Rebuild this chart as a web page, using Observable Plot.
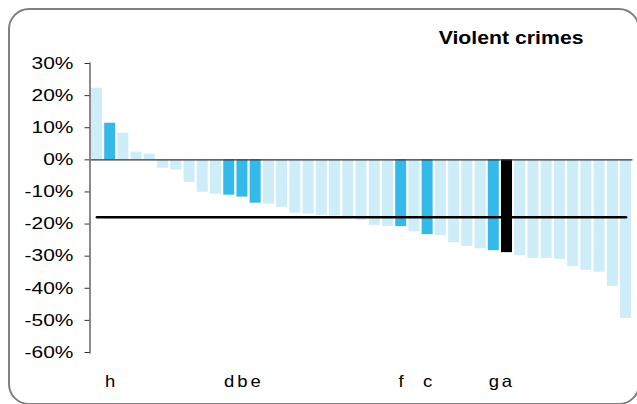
<!DOCTYPE html>
<html><head><meta charset="utf-8">
<script src="https://cdn.jsdelivr.net/npm/d3@7"></script>
<script src="https://cdn.jsdelivr.net/npm/@observablehq/plot@0.6"></script>
<style>
html,body{margin:0;padding:0;background:#fff;}
#chart{position:relative;width:637px;height:404px;overflow:hidden;}
#chart svg{display:block;}
</style></head><body><div id="chart"></div>
<script>
const title = "Violent crimes";
const values = [22.3, 11.4, 8.3, 2.4, 1.8, -2.6, -3.2, -7.0, -10.1, -10.7,
  -11.0, -11.6, -13.5, -13.8, -14.8, -16.6, -16.9, -17.3, -17.5, -17.7,
  -18.8, -20.4, -20.7, -20.8, -22.4, -23.3, -23.6, -25.8, -27.0, -27.7,
  -28.3, -28.9, -29.8, -30.7, -30.7, -31.0, -33.2, -34.4, -35.0, -39.4, -49.4];
const labels = ["", "h", "", "", "", "", "", "", "", "",
  "d", "b", "e", "", "", "", "", "", "", "",
  "", "", "", "f", "", "c", "", "", "", "",
  "g", "a", "", "", "", "", "", "", "", "", ""];
const groups = ["base", "hl", "base", "base", "base", "base", "base", "base", "base", "base",
  "hl", "hl", "hl", "base", "base", "base", "base", "base", "base", "base",
  "base", "base", "base", "hl", "base", "hl", "base", "base", "base", "base",
  "hl", "key", "base", "base", "base", "base", "base", "base", "base", "base", "base"];
const yTicks = [30, 20, 10, 0, -10, -20, -30, -40, -50, -60];
const average = -17.9;
const groupNames = ["base", "hl", "key"];
const groupColors = ["#cdedf9", "#33b9ea", "#000000"];

const data = values.map((v, i) => ({i, v, label: labels[i], group: groups[i]}));

const plot = Plot.plot({
  width: 637, height: 404,
  marginLeft: 89.5, marginRight: 4.5, marginTop: 63, marginBottom: 52,
  style: {fontFamily: "'Liberation Sans', Arial, sans-serif", fontSize: "16.5px", color: "#000", background: "transparent"},
  x: {type: "band", domain: data.map(d => d.i), paddingInner: 0.17, paddingOuter: 0.11, round: false, label: null, axis: null},
  y: {domain: [-60, 30], label: null, axis: null},
  color: {domain: groupNames, range: groupColors},
  marks: [
    Plot.frame({insetLeft: -81, insetTop: -54.5, insetRight: -6, insetBottom: -51.5, rx: 20, stroke: "#808080", strokeWidth: 2, fill: "none"}),
    Plot.barY(data, {x: "i", y: "v", fill: "group"}),
    Plot.ruleY([0], {stroke: "#333", strokeWidth: 1.3}),
    Plot.line(data, {x: "i", y: () => average, stroke: "#000", strokeWidth: 2.6}),
    Plot.frame({anchor: "left", stroke: "#8a8a8a", strokeWidth: 2}),
    Plot.axisY({ticks: yTicks, tickFormat: d => d + "%", tickSize: 5, tickPadding: 11.5, stroke: "#333", fontSize: 16.5, label: null}),
    Plot.axisX({tickSize: 0, tickPadding: 22.5, tickFormat: i => labels[i], fontSize: 16.5, label: null}),
    Plot.text([title], {frameAnchor: "top-right", dx: -49.5, dy: -20, lineAnchor: "bottom", textAnchor: "end", fontWeight: "bold", fontSize: 18, fill: "#000"})
  ]
});
document.getElementById("chart").appendChild(plot);

function stretch(sel, k, filter) {
  d3.select(plot).selectAll(sel).each(function() {
    if (filter && !filter(this)) return;
    const len = this.getComputedTextLength();
    if (len > 0) {
      this.setAttribute("textLength", len * k);
      this.setAttribute("lengthAdjust", "spacingAndGlyphs");
    }
  });
}
stretch("g[aria-label='y-axis tick label'] text", 1.27);
stretch("g[aria-label='x-axis tick label'] text", 1.12);
stretch("text", 1.18, el => el.textContent === title);
</script></body></html>
